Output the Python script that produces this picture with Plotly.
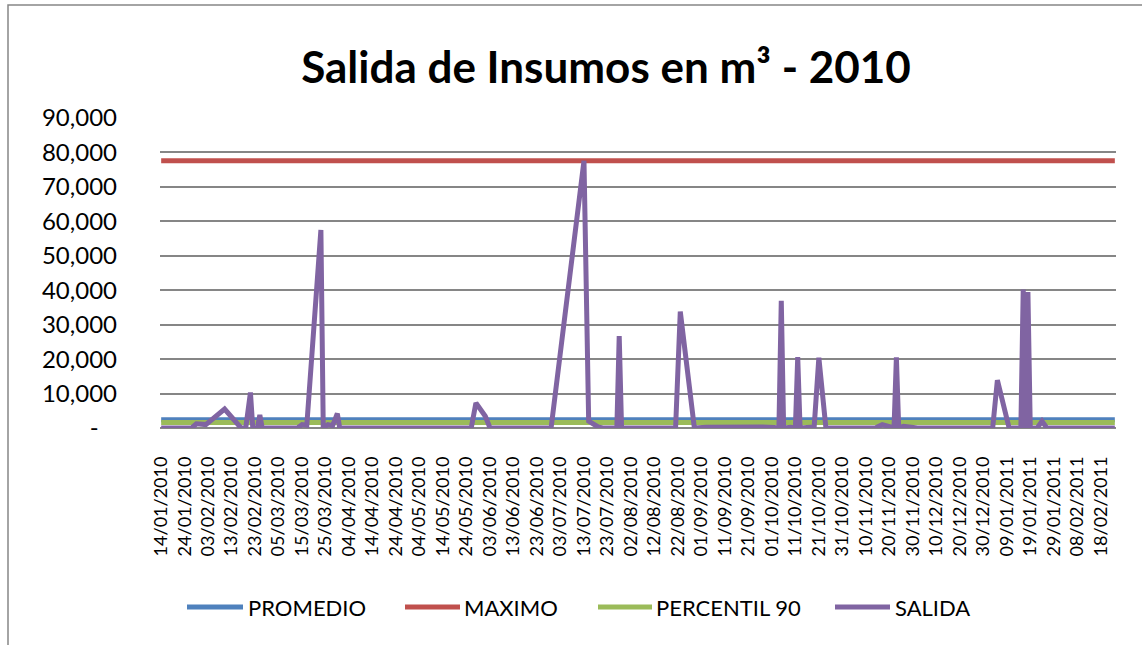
import plotly.graph_objects as go

# Daily outflow record (m³) – dates where the series changes
salida_fechas = [
    "2010-01-14", "2010-01-27", "2010-01-29", "2010-02-02", "2010-02-10",
    "2010-02-17", "2010-02-19", "2010-02-21", "2010-02-22", "2010-02-24",
    "2010-02-25", "2010-02-26", "2010-03-13", "2010-03-15", "2010-03-17",
    "2010-03-23", "2010-03-24", "2010-03-26", "2010-03-28", "2010-03-30",
    "2010-03-31", "2010-05-26", "2010-05-28", "2010-06-01", "2010-06-03",
    "2010-06-29", "2010-07-13", "2010-07-15", "2010-07-19", "2010-07-21",
    "2010-07-27", "2010-07-28", "2010-07-29", "2010-08-21", "2010-08-23",
    "2010-08-29", "2010-09-03", "2010-09-10", "2010-09-20", "2010-09-27",
    "2010-10-02", "2010-10-04", "2010-10-05", "2010-10-06", "2010-10-09",
    "2010-10-11", "2010-10-12", "2010-10-13", "2010-10-19", "2010-10-21",
    "2010-10-24", "2010-11-14", "2010-11-17", "2010-11-22", "2010-11-23",
    "2010-11-24", "2010-11-26", "2010-11-29", "2010-12-02", "2011-01-03",
    "2011-01-05", "2011-01-10", "2011-01-15", "2011-01-16", "2011-01-17",
    "2011-01-18", "2011-01-19", "2011-01-22", "2011-01-24", "2011-01-26",
    "2011-02-24",
]
salida_valores = [
    0, 0, 1200, 1000, 5500,
    0, 0, 10300, 0, 0,
    3800, 0, 0, 1000, 800,
    57500, 0, 1000, 700, 4200,
    0, 0, 7300, 3400, 0,
    0, 77600, 2000, 300, 0,
    0, 26700, 0, 0, 33800,
    0, 200, 300, 150, 300,
    150, 0, 36900, 0, 200,
    0, 20600, 0, 300, 20400,
    0, 0, 1000, 0, 20500,
    0, 500, 300, 0, 0,
    13900, 0, 0, 40200, 0,
    39500, 0, 0, 2000, 0,
    0,
]

# Reference levels
PROMEDIO = 2400
MAXIMO = 77600
PERCENTIL_90 = 1600

y_ticks = [0, 10000, 20000, 30000, 40000, 50000, 60000, 70000, 80000, 90000]
y_tick_text = ["-\u00a0\u00a0\u00a0", "10,000", "20,000", "30,000", "40,000",
               "50,000", "60,000", "70,000", "80,000", "90,000"]

series = [
    ("PROMEDIO", "#4F81BD"),
    ("MAXIMO", "#C0504D"),
    ("PERCENTIL 90", "#9BBB59"),
    ("SALIDA", "#8064A2"),
]
niveles = {"PROMEDIO": PROMEDIO, "MAXIMO": MAXIMO, "PERCENTIL 90": PERCENTIL_90}

FONT = "Lato"
W, H = 1142, 645
ML, MR, MT, MB = 160, 26, 118, 217
PW, PH = W - ML - MR, H - MT - MB

fig = go.Figure()
x_span = [salida_fechas[0], salida_fechas[-1]]
for name, color in series:
    if name == "SALIDA":
        xs, ys = salida_fechas, salida_valores
    else:
        xs, ys = x_span, [niveles[name]] * 2
    fig.add_trace(go.Scatter(
        x=xs, y=ys, mode="lines", name=name,
        line=dict(color=color, width=5),
        hoverinfo="x+y+name",
    ))

# Legend drawn below the plot: line sample + label
def px_x(px):
    return (px - ML) / PW


def px_y(py):
    return (H - MB - py) / PH


legend_items = [(187, 243, 246), (405, 460, 462), (598, 652, 654), (835, 890, 893)]
shapes = []
annotations = []
for (name, color), (x0, x1, xt) in zip(series, legend_items):
    shapes.append(dict(type="line", xref="paper", yref="paper",
                       x0=px_x(x0), x1=px_x(x1), y0=px_y(607), y1=px_y(607),
                       line=dict(color=color, width=5)))
    annotations.append(dict(text=name, xref="paper", yref="paper",
                            x=px_x(xt), y=px_y(607), xanchor="left", yanchor="middle",
                            showarrow=False, font=dict(family=FONT, size=22, color="#000000")))

# Chart area frame
shapes.append(dict(type="rect", xref="paper", yref="paper", layer="below",
                   x0=px_x(8), x1=px_x(1160), y0=px_y(5), y1=px_y(660),
                   line=dict(color="#868686", width=1.5), fillcolor="rgba(0,0,0,0)"))

fig.update_layout(
    width=W, height=H,
    margin=dict(l=ML, r=MR, t=MT, b=MB),
    paper_bgcolor="white", plot_bgcolor="white",
    showlegend=False,
    title=dict(
        text="<b>Salida de Insumos en m³ - 2010</b>",
        font=dict(family=FONT, size=44, color="#000000"),
        xref="container", yref="container",
        x=606 / W, y=1 - 68 / H, xanchor="center", yanchor="middle",
    ),
    xaxis=dict(
        type="date",
        range=["2010-01-13 12:00", "2011-02-24 12:00"],
        tick0="2010-01-14", dtick=10 * 24 * 3600 * 1000,
        tickformat="%d/%m/%Y", tickangle=-90,
        tickfont=dict(family=FONT, size=18, color="#000000"),
        showgrid=False, showline=False, zeroline=False,
        ticks="", ticklabelstandoff=24,
    ),
    yaxis=dict(
        range=[0, 90000],
        tickvals=y_ticks, ticktext=y_tick_text,
        tickfont=dict(family=FONT, size=24, color="#000000"),
        showgrid=True, gridcolor="#868686", gridwidth=1.5,
        zeroline=True, zerolinecolor="#868686", zerolinewidth=1.5,
        showline=False, ticks="", ticklabelstandoff=42,
    ),
    shapes=shapes,
    annotations=annotations,
)

fig.write_html("out.html")
